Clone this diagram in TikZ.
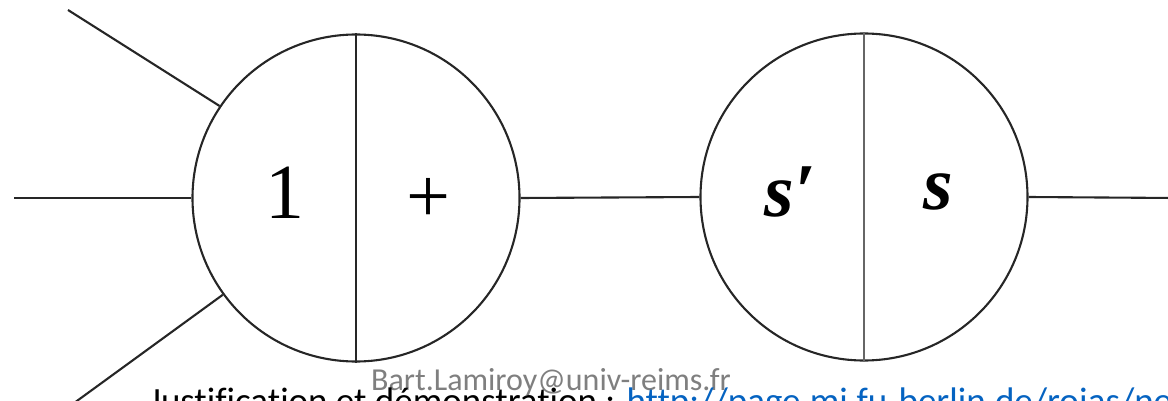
\documentclass[tikz,border=0pt]{standalone}
\usepackage{fontspec}
\setmainfont{Liberation Serif}
\newfontfamily\calib[Ligatures=NoCommon]{Carlito}
\definecolor{linkblue}{HTML}{0563C1}
\definecolor{mailgray}{HTML}{7F7F7F}
\begin{document}
\begin{tikzpicture}[x=1pt,y=-1pt,
  wire/.style={line width=2.1pt,draw=black!85},
  gate/.style={circle,draw=black!85,line width=2.1pt,minimum size=327pt,inner sep=0pt},
  lbl/.style={font=\fontsize{78}{80}\selectfont},
  slbl/.style={font=\fontsize{76}{80}\selectfont\bfseries\itshape}]
\useasboundingbox (0,0) rectangle (1168,401);
\begin{scope}
\clip (0,0) rectangle (1168,401);
\node[gate] (c1) at (356,198) {};
\node[gate] (c2) at (864,197) {};
\draw[wire] (c1.north) -- (c1.south);
\draw[wire,draw=black!60] (c2.north) -- (c2.south);
\coordinate (inL) at (14,198);
\coordinate (inT) at (68,10);
\coordinate (inB) at (70,406);
\coordinate (out) at (1175,198);
\draw[wire] (inL) -- (c1.west);
\draw[wire] (inT) -- (c1.146);
\draw[wire] (inB) -- (c1.216);
\draw[wire] (c1.east) -- (c2.west);
\draw[wire] (c2.east) -- (out);
\node[lbl] (one) at (285,193) {1};
\node[lbl] (plus) at (428,200) {+};
\node[slbl] (sp) at (790,192) {s′};
\node[slbl] (s) at (938,192) {s};
\node[font=\calib\fontsize{32}{34}\selectfont,text=mailgray,anchor=base] (mail) at (551,390) {Bart.Lamiroy@univ-reims.fr};
\node[font=\calib\fontsize{37}{40}\selectfont,anchor=base west,inner sep=0pt] (just) at (149,413) {Justification et démonstration : \textcolor{linkblue}{http://page.mi.fu-berlin.de/rojas/neural/}};
\end{scope}
\end{tikzpicture}
\end{document}
